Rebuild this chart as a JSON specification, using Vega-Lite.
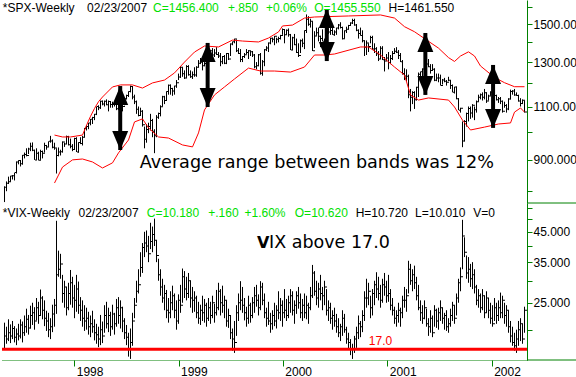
{
"$schema": "https://vega.github.io/schema/vega-lite/v6.json",
"padding": 0,
"spacing": 0,
"bounds": "flush",
"background": "#ffffff",
"config": {
  "view": {"stroke": null},
  "font": "Liberation Sans",
  "axis": {"grid": false, "domainColor": "#008000", "tickColor": "#008000", "labelColor": "#000000", "labelFont": "Liberation Sans", "labelFontSize": 12}
},
"datasets": {
"w": [
{"d":"1997-05-02","h":815,"l":768,"c":812,"vh":21.2,"vl":17.0,"vc":19.0},
{"d":"1997-05-09","h":830,"l":800,"c":824,"vh":20.5,"vl":17.8,"vc":18.5},
{"d":"1997-05-16","h":845,"l":822,"c":829,"vh":21.8,"vl":18.2,"vc":19.5},
{"d":"1997-05-23","h":848,"l":829,"c":847,"vh":20.9,"vl":17.9,"vc":19.0},
{"d":"1997-05-30","h":850,"l":836,"c":848,"vh":21.5,"vl":18.5,"vc":20.2},
{"d":"1997-06-06","h":858,"l":833,"c":858,"vh":20.6,"vl":18.0,"vc":18.8},
{"d":"1997-06-13","h":895,"l":855,"c":893,"vh":20.2,"vl":17.6,"vc":19.3},
{"d":"1997-06-20","h":899,"l":885,"c":898,"vh":21.0,"vl":18.3,"vc":19.0},
{"d":"1997-06-27","h":899,"l":878,"c":887,"vh":21.8,"vl":18.6,"vc":20.8},
{"d":"1997-07-04","h":917,"l":884,"c":916,"vh":21.4,"vl":18.0,"vc":19.5},
{"d":"1997-07-11","h":925,"l":905,"c":918,"vh":22.5,"vl":19.0,"vc":20.5},
{"d":"1997-07-18","h":940,"l":912,"c":915,"vh":23.8,"vl":19.5,"vc":21.8},
{"d":"1997-07-25","h":942,"l":920,"c":938,"vh":22.6,"vl":19.2,"vc":20.3},
{"d":"1997-08-01","h":960,"l":930,"c":947,"vh":24.4,"vl":20.2,"vc":22.5},
{"d":"1997-08-08","h":961,"l":930,"c":933,"vh":25.0,"vl":20.8,"vc":23.0},
{"d":"1997-08-15","h":935,"l":900,"c":900,"vh":24.1,"vl":20.0,"vc":21.5},
{"d":"1997-08-22","h":940,"l":900,"c":923,"vh":26.0,"vl":21.6,"vc":24.0},
{"d":"1997-08-29","h":928,"l":898,"c":899,"vh":25.2,"vl":21.0,"vc":22.5},
{"d":"1997-09-05","h":935,"l":900,"c":929,"vh":27.9,"vl":22.5,"vc":26.0},
{"d":"1997-09-12","h":932,"l":905,"c":923,"vh":26.4,"vl":21.8,"vc":23.5},
{"d":"1997-09-19","h":960,"l":925,"c":950,"vh":25.5,"vl":20.6,"vc":22.0},
{"d":"1997-09-26","h":952,"l":935,"c":945,"vh":23.4,"vl":19.8,"vc":21.5},
{"d":"1997-10-03","h":965,"l":945,"c":965,"vh":23.0,"vl":18.8,"vc":20.0},
{"d":"1997-10-10","h":985,"l":960,"c":966,"vh":22.0,"vl":18.5,"vc":20.5},
{"d":"1997-10-17","h":972,"l":940,"c":944,"vh":24.6,"vl":19.6,"vc":22.8},
{"d":"1997-10-24","h":960,"l":935,"c":941,"vh":25.8,"vl":20.5,"vc":24.5},
{"d":"1997-10-31","h":940,"l":855,"c":915,"vh":49.3,"vl":22.8,"vc":31.5},
{"d":"1997-11-07","h":943,"l":912,"c":927,"vh":38.5,"vl":31.0,"vc":33.0},
{"d":"1997-11-14","h":935,"l":915,"c":928,"vh":37.5,"vl":30.5,"vc":34.5},
{"d":"1997-11-21","h":965,"l":925,"c":963,"vh":31.5,"vl":25.0,"vc":27.0},
{"d":"1997-11-28","h":960,"l":945,"c":955,"vh":30.0,"vl":24.0,"vc":28.5},
{"d":"1997-12-05","h":986,"l":955,"c":983,"vh":28.5,"vl":22.5,"vc":24.0},
{"d":"1997-12-12","h":985,"l":950,"c":953,"vh":29.5,"vl":23.5,"vc":27.0},
{"d":"1997-12-19","h":975,"l":940,"c":947,"vh":32.8,"vl":24.6,"vc":29.5},
{"d":"1997-12-26","h":955,"l":930,"c":936,"vh":31.0,"vl":24.0,"vc":26.0},
{"d":"1998-01-02","h":978,"l":935,"c":975,"vh":29.0,"vl":22.0,"vc":25.5},
{"d":"1998-01-09","h":980,"l":927,"c":927,"vh":31.5,"vl":23.2,"vc":28.0},
{"d":"1998-01-16","h":962,"l":925,"c":961,"vh":29.8,"vl":22.8,"vc":24.5},
{"d":"1998-01-23","h":980,"l":955,"c":957,"vh":26.2,"vl":21.5,"vc":23.5},
{"d":"1998-01-30","h":985,"l":950,"c":980,"vh":25.5,"vl":20.5,"vc":22.0},
{"d":"1998-02-06","h":1015,"l":980,"c":1013,"vh":24.5,"vl":19.8,"vc":21.5},
{"d":"1998-02-13","h":1025,"l":1005,"c":1020,"vh":24.0,"vl":20.0,"vc":22.0},
{"d":"1998-02-20","h":1035,"l":1010,"c":1034,"vh":23.2,"vl":19.2,"vc":20.5},
{"d":"1998-02-27","h":1050,"l":1025,"c":1049,"vh":22.5,"vl":18.8,"vc":21.0},
{"d":"1998-03-06","h":1058,"l":1030,"c":1055,"vh":23.4,"vl":19.5,"vc":20.5},
{"d":"1998-03-13","h":1070,"l":1045,"c":1068,"vh":21.8,"vl":18.3,"vc":19.5},
{"d":"1998-03-20","h":1100,"l":1065,"c":1100,"vh":21.0,"vl":17.8,"vc":19.2},
{"d":"1998-03-27","h":1105,"l":1085,"c":1095,"vh":20.5,"vl":17.3,"vc":18.5},
{"d":"1998-04-03","h":1125,"l":1090,"c":1122,"vh":22.6,"vl":17.6,"vc":20.0},
{"d":"1998-04-10","h":1125,"l":1105,"c":1110,"vh":21.4,"vl":17.9,"vc":19.0},
{"d":"1998-04-17","h":1125,"l":1100,"c":1122,"vh":24.5,"vl":19.5,"vc":22.5},
{"d":"1998-04-24","h":1130,"l":1105,"c":1107,"vh":25.2,"vl":20.2,"vc":21.0},
{"d":"1998-05-01","h":1125,"l":1080,"c":1121,"vh":24.0,"vl":19.6,"vc":22.5},
{"d":"1998-05-08","h":1120,"l":1095,"c":1108,"vh":23.2,"vl":19.0,"vc":20.5},
{"d":"1998-05-15","h":1120,"l":1095,"c":1108,"vh":24.6,"vl":20.0,"vc":22.8},
{"d":"1998-05-22","h":1120,"l":1100,"c":1110,"vh":23.0,"vl":19.2,"vc":21.0},
{"d":"1998-05-29","h":1115,"l":1085,"c":1091,"vh":25.8,"vl":20.5,"vc":24.0},
{"d":"1998-06-05","h":1120,"l":1085,"c":1113,"vh":26.2,"vl":21.0,"vc":22.5},
{"d":"1998-06-12","h":1120,"l":1075,"c":1098,"vh":25.5,"vl":20.2,"vc":24.0},
{"d":"1998-06-19","h":1110,"l":1080,"c":1100,"vh":24.2,"vl":19.6,"vc":21.5},
{"d":"1998-06-26","h":1135,"l":1105,"c":1133,"vh":22.0,"vl":18.5,"vc":19.5},
{"d":"1998-07-03","h":1150,"l":1130,"c":1146,"vh":20.8,"vl":17.6,"vc":18.8},
{"d":"1998-07-10","h":1165,"l":1140,"c":1164,"vh":19.5,"vl":16.0,"vc":17.0},
{"d":"1998-07-17","h":1190,"l":1160,"c":1186,"vh":20.2,"vl":15.7,"vc":18.0},
{"d":"1998-07-24","h":1185,"l":1130,"c":1140,"vh":23.0,"vl":17.5,"vc":21.5},
{"d":"1998-07-31","h":1150,"l":1110,"c":1120,"vh":26.0,"vl":22.0,"vc":24.5},
{"d":"1998-08-07","h":1125,"l":1070,"c":1089,"vh":30.0,"vl":25.0,"vc":27.5},
{"d":"1998-08-14","h":1100,"l":1060,"c":1063,"vh":33.0,"vl":27.0,"vc":29.0},
{"d":"1998-08-21","h":1095,"l":1065,"c":1081,"vh":38.0,"vl":31.0,"vc":33.5},
{"d":"1998-08-28","h":1085,"l":1020,"c":1027,"vh":41.0,"vl":32.0,"vc":39.5},
{"d":"1998-09-04","h":1020,"l":940,"c":973,"vh":45.0,"vl":36.5,"vc":41.0},
{"d":"1998-09-11","h":1030,"l":960,"c":1009,"vh":45.5,"vl":38.0,"vc":40.0},
{"d":"1998-09-18","h":1035,"l":995,"c":1020,"vh":43.5,"vl":35.0,"vc":37.5},
{"d":"1998-09-25","h":1070,"l":1005,"c":1044,"vh":48.5,"vl":39.0,"vc":41.5},
{"d":"1998-10-02","h":1050,"l":980,"c":1002,"vh":47.0,"vl":38.0,"vc":44.0},
{"d":"1998-10-09","h":1010,"l":923,"c":985,"vh":50.2,"vl":40.0,"vc":42.0},
{"d":"1998-10-16","h":1065,"l":980,"c":1056,"vh":42.0,"vl":35.0,"vc":37.0},
{"d":"1998-10-23","h":1075,"l":1050,"c":1071,"vh":36.0,"vl":30.0,"vc":31.5},
{"d":"1998-10-30","h":1105,"l":1060,"c":1099,"vh":33.0,"vl":26.5,"vc":28.5},
{"d":"1998-11-06","h":1145,"l":1100,"c":1141,"vh":30.5,"vl":25.0,"vc":26.0},
{"d":"1998-11-13","h":1145,"l":1110,"c":1125,"vh":29.0,"vl":23.5,"vc":27.0},
{"d":"1998-11-20","h":1165,"l":1125,"c":1164,"vh":27.8,"vl":22.0,"vc":23.5},
{"d":"1998-11-27","h":1195,"l":1150,"c":1192,"vh":26.0,"vl":21.2,"vc":23.0},
{"d":"1998-12-04","h":1195,"l":1150,"c":1177,"vh":27.5,"vl":22.0,"vc":25.0},
{"d":"1998-12-11","h":1180,"l":1145,"c":1166,"vh":28.8,"vl":23.5,"vc":26.5},
{"d":"1998-12-18","h":1190,"l":1150,"c":1188,"vh":27.0,"vl":22.0,"vc":23.5},
{"d":"1998-12-25","h":1215,"l":1180,"c":1203,"vh":25.5,"vl":20.0,"vc":21.5},
{"d":"1999-01-01","h":1245,"l":1215,"c":1229,"vh":26.8,"vl":21.0,"vc":25.5},
{"d":"1999-01-08","h":1280,"l":1225,"c":1275,"vh":29.0,"vl":23.0,"vc":24.5},
{"d":"1999-01-15","h":1275,"l":1230,"c":1244,"vh":33.2,"vl":25.0,"vc":31.0},
{"d":"1999-01-22","h":1260,"l":1220,"c":1225,"vh":32.5,"vl":26.0,"vc":28.0},
{"d":"1999-01-29","h":1285,"l":1225,"c":1279,"vh":31.0,"vl":25.5,"vc":27.0},
{"d":"1999-02-05","h":1285,"l":1235,"c":1239,"vh":32.0,"vl":26.0,"vc":30.0},
{"d":"1999-02-12","h":1260,"l":1225,"c":1230,"vh":30.0,"vl":24.0,"vc":26.0},
{"d":"1999-02-19","h":1255,"l":1220,"c":1239,"vh":28.5,"vl":23.0,"vc":25.5},
{"d":"1999-02-26","h":1275,"l":1230,"c":1238,"vh":27.5,"vl":23.2,"vc":26.0},
{"d":"1999-03-05","h":1280,"l":1230,"c":1275,"vh":26.5,"vl":22.0,"vc":23.0},
{"d":"1999-03-12","h":1310,"l":1275,"c":1294,"vh":25.2,"vl":21.0,"vc":22.0},
{"d":"1999-03-19","h":1320,"l":1290,"c":1299,"vh":24.6,"vl":20.8,"vc":23.5},
{"d":"1999-03-26","h":1310,"l":1260,"c":1282,"vh":26.5,"vl":21.5,"vc":23.0},
{"d":"1999-04-02","h":1300,"l":1280,"c":1293,"vh":25.8,"vl":21.2,"vc":24.5},
{"d":"1999-04-09","h":1350,"l":1290,"c":1343,"vh":25.0,"vl":20.5,"vc":22.0},
{"d":"1999-04-16","h":1350,"l":1310,"c":1319,"vh":26.0,"vl":21.5,"vc":24.0},
{"d":"1999-04-23","h":1360,"l":1320,"c":1356,"vh":25.2,"vl":21.0,"vc":22.5},
{"d":"1999-04-30","h":1370,"l":1320,"c":1335,"vh":26.5,"vl":22.0,"vc":25.0},
{"d":"1999-05-07","h":1365,"l":1325,"c":1345,"vh":24.8,"vl":21.2,"vc":23.0},
{"d":"1999-05-14","h":1375,"l":1335,"c":1337,"vh":27.8,"vl":22.5,"vc":24.0},
{"d":"1999-05-21","h":1350,"l":1320,"c":1330,"vh":29.5,"vl":23.5,"vc":27.5},
{"d":"1999-05-28","h":1345,"l":1280,"c":1302,"vh":28.0,"vl":22.5,"vc":25.0},
{"d":"1999-06-04","h":1330,"l":1290,"c":1327,"vh":28.8,"vl":23.0,"vc":24.5},
{"d":"1999-06-11","h":1335,"l":1290,"c":1294,"vh":26.5,"vl":22.0,"vc":25.5},
{"d":"1999-06-18","h":1345,"l":1290,"c":1342,"vh":25.5,"vl":20.5,"vc":21.5},
{"d":"1999-06-25","h":1345,"l":1310,"c":1315,"vh":23.8,"vl":20.3,"vc":22.5},
{"d":"1999-07-02","h":1395,"l":1330,"c":1391,"vh":22.5,"vl":18.5,"vc":19.5},
{"d":"1999-07-09","h":1405,"l":1385,"c":1403,"vh":20.2,"vl":16.8,"vc":18.5},
{"d":"1999-07-16","h":1420,"l":1395,"c":1418,"vh":21.5,"vl":16.5,"vc":18.0},
{"d":"1999-07-23","h":1415,"l":1350,"c":1356,"vh":24.5,"vl":19.0,"vc":23.0},
{"d":"1999-07-30","h":1370,"l":1340,"c":1343,"vh":27.0,"vl":21.5,"vc":25.0},
{"d":"1999-08-06","h":1365,"l":1300,"c":1313,"vh":29.9,"vl":23.5,"vc":25.5},
{"d":"1999-08-13","h":1330,"l":1300,"c":1327,"vh":28.5,"vl":23.0,"vc":24.5},
{"d":"1999-08-20","h":1345,"l":1320,"c":1336,"vh":26.0,"vl":21.6,"vc":23.0},
{"d":"1999-08-27","h":1365,"l":1340,"c":1348,"vh":24.2,"vl":20.5,"vc":22.0},
{"d":"1999-09-03","h":1360,"l":1315,"c":1357,"vh":26.5,"vl":21.0,"vc":24.5},
{"d":"1999-09-10","h":1355,"l":1330,"c":1351,"vh":25.0,"vl":21.2,"vc":22.5},
{"d":"1999-09-17","h":1355,"l":1325,"c":1335,"vh":26.2,"vl":22.0,"vc":25.0},
{"d":"1999-09-24","h":1340,"l":1270,"c":1277,"vh":28.5,"vl":23.0,"vc":26.5},
{"d":"1999-10-01","h":1300,"l":1265,"c":1282,"vh":29.0,"vl":24.2,"vc":25.5},
{"d":"1999-10-08","h":1340,"l":1280,"c":1336,"vh":26.8,"vl":22.5,"vc":24.0},
{"d":"1999-10-15","h":1345,"l":1240,"c":1247,"vh":29.9,"vl":23.5,"vc":28.5},
{"d":"1999-10-22","h":1310,"l":1235,"c":1301,"vh":29.5,"vl":24.5,"vc":25.5},
{"d":"1999-10-29","h":1365,"l":1280,"c":1362,"vh":27.0,"vl":22.0,"vc":23.0},
{"d":"1999-11-05","h":1380,"l":1355,"c":1370,"vh":24.0,"vl":20.5,"vc":22.0},
{"d":"1999-11-12","h":1400,"l":1350,"c":1397,"vh":25.2,"vl":20.8,"vc":21.5},
{"d":"1999-11-19","h":1425,"l":1390,"c":1422,"vh":23.0,"vl":19.5,"vc":21.0},
{"d":"1999-11-26","h":1425,"l":1400,"c":1417,"vh":23.5,"vl":20.0,"vc":22.5},
{"d":"1999-12-03","h":1435,"l":1385,"c":1433,"vh":25.0,"vl":20.6,"vc":21.5},
{"d":"1999-12-10","h":1425,"l":1395,"c":1417,"vh":24.5,"vl":20.2,"vc":23.5},
{"d":"1999-12-17","h":1430,"l":1400,"c":1421,"vh":27.5,"vl":21.8,"vc":23.0},
{"d":"1999-12-24","h":1440,"l":1415,"c":1437,"vh":26.0,"vl":21.5,"vc":24.5},
{"d":"1999-12-31","h":1475,"l":1440,"c":1469,"vh":25.5,"vl":20.5,"vc":23.0},
{"d":"2000-01-07","h":1470,"l":1395,"c":1441,"vh":28.0,"vl":22.0,"vc":23.5},
{"d":"2000-01-14","h":1470,"l":1440,"c":1465,"vh":25.8,"vl":21.5,"vc":22.5},
{"d":"2000-01-21","h":1475,"l":1430,"c":1441,"vh":26.5,"vl":22.0,"vc":25.0},
{"d":"2000-01-28","h":1445,"l":1360,"c":1360,"vh":28.0,"vl":23.0,"vc":26.5},
{"d":"2000-02-04","h":1430,"l":1360,"c":1424,"vh":27.5,"vl":22.5,"vc":23.5},
{"d":"2000-02-11","h":1445,"l":1385,"c":1387,"vh":25.5,"vl":21.0,"vc":24.5},
{"d":"2000-02-18","h":1420,"l":1345,"c":1347,"vh":27.5,"vl":22.8,"vc":26.5},
{"d":"2000-02-25","h":1395,"l":1325,"c":1333,"vh":28.5,"vl":23.8,"vc":25.0},
{"d":"2000-03-03","h":1415,"l":1345,"c":1409,"vh":27.0,"vl":22.0,"vc":23.0},
{"d":"2000-03-10","h":1420,"l":1375,"c":1395,"vh":25.8,"vl":21.5,"vc":24.5},
{"d":"2000-03-17","h":1465,"l":1365,"c":1464,"vh":27.0,"vl":22.0,"vc":23.0},
{"d":"2000-03-24","h":1555,"l":1450,"c":1527,"vh":26.5,"vl":21.8,"vc":24.5},
{"d":"2000-03-31","h":1545,"l":1490,"c":1499,"vh":25.0,"vl":21.0,"vc":24.0},
{"d":"2000-04-07","h":1530,"l":1480,"c":1516,"vh":28.5,"vl":23.5,"vc":26.5},
{"d":"2000-04-14","h":1515,"l":1355,"c":1356,"vh":34.2,"vl":26.0,"vc":32.0},
{"d":"2000-04-21","h":1460,"l":1370,"c":1434,"vh":32.5,"vl":26.5,"vc":27.5},
{"d":"2000-04-28","h":1480,"l":1435,"c":1452,"vh":30.0,"vl":24.5,"vc":26.0},
{"d":"2000-05-05","h":1480,"l":1405,"c":1432,"vh":29.5,"vl":24.0,"vc":28.0},
{"d":"2000-05-12","h":1435,"l":1375,"c":1420,"vh":31.5,"vl":25.5,"vc":27.0},
{"d":"2000-05-19","h":1470,"l":1405,"c":1406,"vh":28.5,"vl":23.5,"vc":26.5},
{"d":"2000-05-26","h":1420,"l":1365,"c":1378,"vh":30.0,"vl":24.5,"vc":28.5},
{"d":"2000-06-02","h":1480,"l":1375,"c":1477,"vh":28.0,"vl":22.5,"vc":23.5},
{"d":"2000-06-09","h":1475,"l":1445,"c":1456,"vh":25.5,"vl":21.5,"vc":24.0},
{"d":"2000-06-16","h":1480,"l":1440,"c":1464,"vh":25.0,"vl":21.0,"vc":22.0},
{"d":"2000-06-23","h":1485,"l":1440,"c":1441,"vh":23.5,"vl":20.0,"vc":22.5},
{"d":"2000-06-30","h":1465,"l":1435,"c":1455,"vh":24.0,"vl":20.5,"vc":21.5},
{"d":"2000-07-07","h":1480,"l":1440,"c":1478,"vh":22.8,"vl":19.5,"vc":20.5},
{"d":"2000-07-14","h":1500,"l":1470,"c":1495,"vh":22.0,"vl":18.8,"vc":19.5},
{"d":"2000-07-21","h":1510,"l":1475,"c":1480,"vh":21.0,"vl":18.2,"vc":20.5},
{"d":"2000-07-28","h":1485,"l":1415,"c":1419,"vh":23.5,"vl":19.0,"vc":22.0},
{"d":"2000-08-04","h":1465,"l":1420,"c":1462,"vh":22.8,"vl":19.5,"vc":20.0},
{"d":"2000-08-11","h":1485,"l":1450,"c":1471,"vh":20.5,"vl":17.8,"vc":18.5},
{"d":"2000-08-18","h":1495,"l":1470,"c":1491,"vh":19.5,"vl":17.0,"vc":18.0},
{"d":"2000-08-25","h":1510,"l":1490,"c":1506,"vh":18.5,"vl":16.2,"vc":17.0},
{"d":"2000-09-01","h":1530,"l":1500,"c":1520,"vh":17.8,"vl":15.7,"vc":17.0},
{"d":"2000-09-08","h":1530,"l":1490,"c":1494,"vh":19.0,"vl":16.5,"vc":18.5},
{"d":"2000-09-15","h":1500,"l":1460,"c":1465,"vh":20.5,"vl":17.2,"vc":19.5},
{"d":"2000-09-22","h":1470,"l":1420,"c":1448,"vh":22.5,"vl":18.5,"vc":21.0},
{"d":"2000-09-29","h":1480,"l":1435,"c":1436,"vh":21.5,"vl":18.8,"vc":20.5},
{"d":"2000-10-06","h":1465,"l":1400,"c":1408,"vh":23.5,"vl":19.6,"vc":22.5},
{"d":"2000-10-13","h":1410,"l":1330,"c":1374,"vh":27.5,"vl":21.5,"vc":26.0},
{"d":"2000-10-20","h":1410,"l":1335,"c":1396,"vh":30.5,"vl":24.0,"vc":26.0},
{"d":"2000-10-27","h":1395,"l":1350,"c":1379,"vh":29.5,"vl":24.5,"vc":27.5},
{"d":"2000-11-03","h":1435,"l":1395,"c":1426,"vh":26.5,"vl":22.0,"vc":24.0},
{"d":"2000-11-10","h":1435,"l":1360,"c":1365,"vh":28.0,"vl":22.5,"vc":27.0},
{"d":"2000-11-17","h":1395,"l":1345,"c":1367,"vh":30.0,"vl":24.5,"vc":29.0},
{"d":"2000-11-24","h":1375,"l":1330,"c":1341,"vh":32.2,"vl":26.0,"vc":28.0},
{"d":"2000-12-01","h":1355,"l":1305,"c":1315,"vh":31.0,"vl":25.5,"vc":27.0},
{"d":"2000-12-08","h":1380,"l":1315,"c":1369,"vh":29.0,"vl":24.0,"vc":25.5},
{"d":"2000-12-15","h":1380,"l":1310,"c":1312,"vh":30.5,"vl":25.0,"vc":29.0},
{"d":"2000-12-22","h":1325,"l":1255,"c":1305,"vh":32.0,"vl":26.5,"vc":28.5},
{"d":"2000-12-29","h":1340,"l":1305,"c":1320,"vh":30.0,"vl":25.0,"vc":26.5},
{"d":"2001-01-05","h":1350,"l":1265,"c":1298,"vh":31.5,"vl":25.2,"vc":27.0},
{"d":"2001-01-12","h":1335,"l":1290,"c":1318,"vh":28.0,"vl":23.5,"vc":24.5},
{"d":"2001-01-19","h":1355,"l":1310,"c":1342,"vh":26.0,"vl":22.5,"vc":23.5},
{"d":"2001-01-26","h":1370,"l":1340,"c":1354,"vh":24.2,"vl":21.0,"vc":22.0},
{"d":"2001-02-02","h":1375,"l":1345,"c":1349,"vh":23.5,"vl":20.5,"vc":22.5},
{"d":"2001-02-09","h":1360,"l":1315,"c":1332,"vh":25.0,"vl":21.2,"vc":23.5},
{"d":"2001-02-16","h":1345,"l":1300,"c":1302,"vh":24.0,"vl":20.5,"vc":23.0},
{"d":"2001-02-23","h":1310,"l":1240,"c":1245,"vh":26.5,"vl":22.0,"vc":25.5},
{"d":"2001-03-02","h":1270,"l":1215,"c":1234,"vh":28.5,"vl":24.0,"vc":25.5},
{"d":"2001-03-09","h":1265,"l":1210,"c":1233,"vh":28.0,"vl":23.2,"vc":26.5},
{"d":"2001-03-16","h":1240,"l":1135,"c":1150,"vh":35.4,"vl":27.0,"vc":33.0},
{"d":"2001-03-23","h":1175,"l":1080,"c":1139,"vh":34.5,"vl":29.0,"vc":30.0},
{"d":"2001-03-30","h":1165,"l":1110,"c":1160,"vh":33.0,"vl":27.5,"vc":31.5},
{"d":"2001-04-06","h":1165,"l":1090,"c":1128,"vh":34.0,"vl":28.0,"vc":29.5},
{"d":"2001-04-13","h":1185,"l":1125,"c":1183,"vh":31.0,"vl":25.5,"vc":26.5},
{"d":"2001-04-20","h":1250,"l":1140,"c":1242,"vh":29.0,"vl":23.5,"vc":24.0},
{"d":"2001-04-27","h":1255,"l":1215,"c":1253,"vh":25.5,"vl":21.5,"vc":23.0},
{"d":"2001-05-04","h":1270,"l":1230,"c":1266,"vh":24.5,"vl":21.0,"vc":22.0},
{"d":"2001-05-11","h":1270,"l":1230,"c":1245,"vh":25.5,"vl":21.8,"vc":24.0},
{"d":"2001-05-18","h":1295,"l":1245,"c":1291,"vh":23.8,"vl":20.5,"vc":21.0},
{"d":"2001-05-25","h":1315,"l":1275,"c":1277,"vh":22.0,"vl":19.0,"vc":20.5},
{"d":"2001-06-01","h":1290,"l":1245,"c":1260,"vh":23.5,"vl":19.5,"vc":22.0},
{"d":"2001-06-08","h":1290,"l":1260,"c":1265,"vh":22.5,"vl":18.8,"vc":19.5},
{"d":"2001-06-15","h":1270,"l":1210,"c":1214,"vh":24.5,"vl":20.5,"vc":23.5},
{"d":"2001-06-22","h":1245,"l":1210,"c":1225,"vh":23.8,"vl":20.3,"vc":21.5},
{"d":"2001-06-29","h":1245,"l":1205,"c":1224,"vh":24.0,"vl":20.0,"vc":23.0},
{"d":"2001-07-06","h":1240,"l":1190,"c":1190,"vh":25.5,"vl":21.5,"vc":24.0},
{"d":"2001-07-13","h":1220,"l":1195,"c":1215,"vh":24.0,"vl":21.0,"vc":22.0},
{"d":"2001-07-20","h":1225,"l":1205,"c":1210,"vh":23.0,"vl":20.0,"vc":22.5},
{"d":"2001-07-27","h":1215,"l":1190,"c":1205,"vh":23.5,"vl":19.8,"vc":20.5},
{"d":"2001-08-03","h":1230,"l":1210,"c":1214,"vh":22.0,"vl":19.5,"vc":21.0},
{"d":"2001-08-10","h":1215,"l":1175,"c":1190,"vh":23.8,"vl":20.5,"vc":22.5},
{"d":"2001-08-17","h":1195,"l":1160,"c":1161,"vh":25.2,"vl":21.5,"vc":24.5},
{"d":"2001-08-24","h":1185,"l":1155,"c":1184,"vh":24.5,"vl":21.0,"vc":22.0},
{"d":"2001-08-31","h":1185,"l":1130,"c":1133,"vh":27.0,"vl":22.5,"vc":26.0},
{"d":"2001-09-07","h":1135,"l":1085,"c":1085,"vh":30.5,"vl":25.0,"vc":29.5},
{"d":"2001-09-14","h":1095,"l":1075,"c":1093,"vh":33.5,"vl":27.5,"vc":31.0},
{"d":"2001-09-21","h":1040,"l":944,"c":966,"vh":49.7,"vl":33.0,"vc":43.5},
{"d":"2001-09-28","h":1045,"l":965,"c":1040,"vh":43.0,"vl":36.5,"vc":38.0},
{"d":"2001-10-05","h":1075,"l":1020,"c":1071,"vh":37.0,"vl":30.5,"vc":32.0},
{"d":"2001-10-12","h":1100,"l":1040,"c":1092,"vh":36.5,"vl":29.5,"vc":33.0},
{"d":"2001-10-19","h":1100,"l":1050,"c":1073,"vh":34.5,"vl":28.5,"vc":30.5},
{"d":"2001-10-26","h":1110,"l":1055,"c":1105,"vh":35.0,"vl":28.0,"vc":31.5},
{"d":"2001-11-02","h":1100,"l":1045,"c":1087,"vh":33.0,"vl":27.0,"vc":28.5},
{"d":"2001-11-09","h":1125,"l":1075,"c":1120,"vh":29.0,"vl":24.5,"vc":25.5},
{"d":"2001-11-16","h":1150,"l":1120,"c":1139,"vh":28.0,"vl":24.0,"vc":26.5},
{"d":"2001-11-23","h":1155,"l":1130,"c":1150,"vh":27.0,"vl":23.0,"vc":24.0},
{"d":"2001-11-30","h":1160,"l":1125,"c":1139,"vh":28.0,"vl":23.5,"vc":26.5},
{"d":"2001-12-07","h":1175,"l":1130,"c":1158,"vh":26.5,"vl":22.0,"vc":23.0},
{"d":"2001-12-14","h":1160,"l":1115,"c":1123,"vh":27.5,"vl":23.0,"vc":26.0},
{"d":"2001-12-21","h":1150,"l":1125,"c":1144,"vh":26.0,"vl":22.0,"vc":23.5},
{"d":"2001-12-28","h":1165,"l":1145,"c":1161,"vh":25.0,"vl":21.0,"vc":22.0},
{"d":"2002-01-04","h":1176,"l":1140,"c":1172,"vh":24.5,"vl":20.5,"vc":21.0},
{"d":"2002-01-11","h":1175,"l":1140,"c":1146,"vh":26.0,"vl":21.5,"vc":24.0},
{"d":"2002-01-18","h":1150,"l":1125,"c":1128,"vh":25.0,"vl":21.0,"vc":22.5},
{"d":"2002-01-25","h":1140,"l":1115,"c":1133,"vh":25.5,"vl":21.5,"vc":24.0},
{"d":"2002-02-01","h":1140,"l":1110,"c":1122,"vh":27.2,"vl":22.0,"vc":23.0},
{"d":"2002-02-08","h":1125,"l":1075,"c":1081,"vh":26.5,"vl":22.0,"vc":25.5},
{"d":"2002-02-15","h":1120,"l":1095,"c":1104,"vh":25.0,"vl":21.0,"vc":22.5},
{"d":"2002-02-22","h":1110,"l":1075,"c":1090,"vh":24.5,"vl":20.5,"vc":23.5},
{"d":"2002-03-01","h":1135,"l":1085,"c":1132,"vh":23.5,"vl":19.5,"vc":20.5},
{"d":"2002-03-08","h":1172,"l":1130,"c":1164,"vh":21.5,"vl":18.0,"vc":19.0},
{"d":"2002-03-15","h":1170,"l":1150,"c":1166,"vh":20.5,"vl":17.5,"vc":18.0},
{"d":"2002-03-22","h":1175,"l":1145,"c":1149,"vh":19.5,"vl":16.8,"vc":17.5},
{"d":"2002-03-29","h":1160,"l":1145,"c":1147,"vh":20.0,"vl":16.5,"vc":18.5},
{"d":"2002-04-05","h":1150,"l":1120,"c":1123,"vh":21.5,"vl":17.5,"vc":20.0},
{"d":"2002-04-12","h":1135,"l":1100,"c":1112,"vh":22.0,"vl":18.2,"vc":21.0},
{"d":"2002-04-19","h":1130,"l":1110,"c":1126,"vh":21.0,"vl":17.8,"vc":18.5},
{"d":"2002-04-26","h":1125,"l":1075,"c":1077,"vh":24.2,"vl":19.5,"vc":23.5}
],
"up": [
{"d":"1997-10-24","v":988},{"d":"1997-11-21","v":981},{"d":"1997-12-19","v":981},{"d":"1998-01-30","v":988},
{"d":"1998-02-13","v":1025},{"d":"1998-02-27","v":1060},{"d":"1998-03-13","v":1092},{"d":"1998-03-27","v":1120},
{"d":"1998-04-10","v":1140},{"d":"1998-05-15","v":1184},{"d":"1998-06-12","v":1193},{"d":"1998-07-24","v":1193},
{"d":"1998-08-28","v":1179},{"d":"1998-10-02","v":1202},{"d":"1998-11-13","v":1215},{"d":"1998-12-18","v":1248},
{"d":"1999-01-22","v":1300},{"d":"1999-02-26","v":1350},{"d":"1999-04-02","v":1381},{"d":"1999-05-21","v":1376},
{"d":"1999-07-09","v":1412},{"d":"1999-08-13","v":1407},{"d":"1999-10-08","v":1402},{"d":"1999-11-12","v":1423},
{"d":"1999-12-17","v":1456},{"d":"1999-12-31","v":1489},{"d":"2000-02-04","v":1494},{"d":"2000-03-17","v":1534},
{"d":"2000-04-21","v":1540},{"d":"2000-08-18","v":1546},{"d":"2000-12-08","v":1552},{"d":"2001-01-26","v":1534},
{"d":"2001-03-02","v":1485},{"d":"2001-04-06","v":1457},{"d":"2001-05-11","v":1420},{"d":"2001-06-29","v":1370},
{"d":"2001-08-03","v":1322},{"d":"2001-08-24","v":1303},{"d":"2001-09-14","v":1330},{"d":"2001-10-12","v":1351},
{"d":"2001-11-02","v":1330},{"d":"2001-11-23","v":1281},{"d":"2002-01-11","v":1227},{"d":"2002-02-15","v":1203},
{"d":"2002-03-22","v":1185},{"d":"2002-04-26","v":1185}
],
"lo": [
{"d":"1997-10-24","v":825},{"d":"1997-11-07","v":850},{"d":"1997-11-21","v":876},{"d":"1997-12-26","v":900},
{"d":"1998-01-30","v":903},{"d":"1998-03-06","v":893},{"d":"1998-04-10","v":873},{"d":"1998-05-15","v":890},
{"d":"1998-06-05","v":924},{"d":"1998-07-10","v":970},{"d":"1998-07-31","v":1038},{"d":"1998-08-28","v":1050},
{"d":"1998-09-18","v":1015},{"d":"1998-10-23","v":981},{"d":"1998-11-27","v":977},{"d":"1999-01-15","v":952},
{"d":"1999-02-19","v":945},{"d":"1999-03-12","v":996},{"d":"1999-04-02","v":1086},{"d":"1999-05-07","v":1149},
{"d":"1999-06-11","v":1184},{"d":"1999-07-16","v":1220},{"d":"1999-09-03","v":1271},{"d":"1999-10-15","v":1257},
{"d":"1999-12-03","v":1257},{"d":"2000-01-28","v":1252},{"d":"2000-03-17","v":1276},{"d":"2000-04-21","v":1335},
{"d":"2000-05-26","v":1335},{"d":"2000-06-30","v":1340},{"d":"2000-09-29","v":1376},{"d":"2000-10-27","v":1376},
{"d":"2000-12-08","v":1335},{"d":"2001-01-26","v":1276},{"d":"2001-03-02","v":1238},{"d":"2001-03-23","v":1149},
{"d":"2001-04-20","v":1127},{"d":"2001-05-25","v":1136},{"d":"2001-08-03","v":1127},{"d":"2001-08-24","v":1098},
{"d":"2001-09-21","v":1045},{"d":"2001-10-19","v":1007},{"d":"2001-12-07","v":1018},{"d":"2002-01-25","v":1030},
{"d":"2002-03-08","v":1034},{"d":"2002-03-22","v":1077},{"d":"2002-04-12","v":1094},{"d":"2002-04-26","v":1077}
],
"arrows": [
{"d":"1998-06-11","t":1188,"b":934},
{"d":"1999-04-13","t":1397,"b":1098},
{"d":"2000-06-03","t":1587,"b":1305},
{"d":"2001-05-14","t":1450,"b":1149},
{"d":"2002-01-06","t":1286,"b":1015}
],
"hdr": [
{"p":"s","d":"1997-04-26","v":1593,"t":"*SPX-Weekly","k":"b"},
{"p":"s","d":"1998-02-15","v":1593,"t":"02/23/2007","k":"b"},
{"p":"s","d":"1998-10-04","v":1593,"t":"C=1456.400","k":"g"},
{"p":"s","d":"1999-06-23","v":1593,"t":"+.850","k":"g"},
{"p":"s","d":"1999-11-03","v":1593,"t":"+0.06%","k":"g"},
{"p":"s","d":"2000-04-20","v":1593,"t":"O=1455.550","k":"g"},
{"p":"s","d":"2001-01-05","v":1593,"t":"H=1461.550","k":"b"},
{"p":"v","d":"1997-04-26","v":52.7,"t":"*VIX-Weekly","k":"b"},
{"p":"v","d":"1998-01-16","v":52.7,"t":"02/23/2007","k":"b"},
{"p":"v","d":"1998-09-12","v":52.7,"t":"C=10.180","k":"g"},
{"p":"v","d":"1999-04-15","v":52.7,"t":"+.160","k":"g"},
{"p":"v","d":"1999-08-20","v":52.7,"t":"+1.60%","k":"g"},
{"p":"v","d":"2000-02-12","v":52.7,"t":"O=10.620","k":"g"},
{"p":"v","d":"2000-09-12","v":52.7,"t":"H=10.720","k":"b"},
{"p":"v","d":"2001-04-08","v":52.7,"t":"L=10.010","k":"b"},
{"p":"v","d":"2001-10-29","v":52.7,"t":"V=0","k":"b"}
]
},
"vconcat": [
{
 "width": 525, "height": 203,
 "layer": [
  {"data": {"name": "w"}, "mark": {"type": "rule", "color": "#000000", "strokeWidth": 1, "clip": true},
   "encoding": {
     "x": {"field": "d", "type": "temporal", "scale": {"type": "utc", "domain": [{"year":1997,"month":4,"date":23,"hours":6,"utc":true},{"year":2002,"month":5,"date":4,"hours":18,"utc":true}], "nice": false}, "axis": null},
     "y": {"field": "h", "type": "quantitative", "scale": {"type": "log", "domain": [765.3, 1641.7], "nice": false},
           "axis": {"orient": "right", "title": null, "grid": false, "domain": true, "ticks": true, "labels": true, "domainColor": "#008000", "tickColor": "#008000", "values": [800,900,1000,1100,1200,1300,1400,1500,1600], "labelExpr": "indexof([900,1100,1300,1500], datum.value) >= 0 ? format(datum.value, '.3f') : ''", "tickSize": 5, "labelPadding": 1, "labelOverlap": false}},
     "y2": {"field": "l"}}},
  {"data": {"name": "w"}, "mark": {"type": "tick", "orient": "horizontal", "size": 2, "thickness": 1, "xOffset": 1.5, "color": "#000000", "opacity": 1, "clip": true},
   "encoding": {"x": {"field": "d", "type": "temporal", "axis": null}, "y": {"field": "c", "type": "quantitative", "title": null}}},
  {"data": {"name": "up"}, "mark": {"type": "line", "color": "#ff0000", "strokeWidth": 1, "clip": true},
   "encoding": {"x": {"field": "d", "type": "temporal", "axis": null}, "y": {"field": "v", "type": "quantitative", "title": null}}},
  {"data": {"name": "lo"}, "mark": {"type": "line", "color": "#ff0000", "strokeWidth": 1, "clip": true},
   "encoding": {"x": {"field": "d", "type": "temporal", "axis": null}, "y": {"field": "v", "type": "quantitative", "title": null}}},
  {"data": {"name": "arrows"}, "mark": {"type": "rule", "color": "#000000", "strokeWidth": 4},
   "encoding": {"x": {"field": "d", "type": "temporal", "axis": null}, "y": {"field": "t", "type": "quantitative", "title": null}, "y2": {"field": "b"}}},
  {"data": {"name": "arrows"}, "mark": {"type": "point", "shape": "M0,-1L0.84,1L-0.84,1Z", "size": 361, "filled": true, "color": "#000000", "opacity": 1, "strokeWidth": 0, "yOffset": 9.5},
   "encoding": {"x": {"field": "d", "type": "temporal", "axis": null}, "y": {"field": "t", "type": "quantitative", "title": null}}},
  {"data": {"name": "arrows"}, "mark": {"type": "point", "shape": "M0,1L0.84,-1L-0.84,-1Z", "size": 361, "filled": true, "color": "#000000", "opacity": 1, "strokeWidth": 0, "yOffset": -9.5},
   "encoding": {"x": {"field": "d", "type": "temporal", "axis": null}, "y": {"field": "b", "type": "quantitative", "title": null}}},
  {"data": {"name": "hdr"}, "transform": [{"filter": "datum.p == 's'"}],
   "mark": {"type": "text", "align": "left", "baseline": "middle", "fontSize": 12, "font": "Liberation Sans"},
   "encoding": {"x": {"field": "d", "type": "temporal", "axis": null}, "y": {"field": "v", "type": "quantitative", "title": null}, "text": {"field": "t"},
     "color": {"field": "k", "type": "nominal", "scale": {"domain": ["b","g"], "range": ["#000000","#00e000"]}, "legend": null}}},
  {"data": {"values": [{"d":"1998-08-18","v":874,"t":"Average range between bands was 12%"}]},
   "mark": {"type": "text", "align": "left", "baseline": "alphabetic", "fontSize": 17.6, "font": "DejaVu Sans", "color": "#000000"},
   "encoding": {"x": {"field": "d", "type": "temporal", "axis": null}, "y": {"field": "v", "type": "quantitative", "title": null}, "text": {"field": "t"}}},
  {"data": {"values": [{"a":"2002-05-04T18:00:00Z","b":"2002-11-01","v":765.3}]},
   "mark": {"type": "rule", "color": "#008000", "strokeWidth": 1},
   "encoding": {"x": {"field": "a", "type": "temporal", "axis": null}, "x2": {"field": "b"}, "y": {"field": "v", "type": "quantitative", "title": null}}}
 ]
},
{
 "width": 525, "height": 157,
 "layer": [
  {"data": {"name": "w"}, "mark": {"type": "rule", "color": "#000000", "strokeWidth": 1, "clip": true},
   "encoding": {
     "x": {"field": "d", "type": "temporal", "scale": {"type": "utc", "domain": [{"year":1997,"month":4,"date":23,"hours":6,"utc":true},{"year":2002,"month":5,"date":4,"hours":18,"utc":true}], "nice": false},
           "axis": {"orient": "bottom", "title": null, "grid": false, "domain": true, "ticks": true, "labels": true, "domainColor": "#008000", "tickColor": "#008000", "values": [{"year":1998,"month":1,"date":1,"utc":true},{"year":1999,"month":1,"date":1,"utc":true},{"year":2000,"month":1,"date":1,"utc":true},{"year":2001,"month":1,"date":1,"utc":true},{"year":2002,"month":1,"date":1,"utc":true}],
                    "format": "%Y", "tickSize": 6, "labelPadding": 0, "labelAlign": "left", "labelBaseline": "top", "labelOffset": 2, "labelFlush": false, "labelOverlap": false, "domainDash": [1,1]}},
     "y": {"field": "vh", "type": "quantitative", "scale": {"type": "log", "domain": [15.56, 57.13], "nice": false},
           "axis": {"orient": "right", "title": null, "grid": false, "domain": true, "ticks": true, "labels": true, "domainColor": "#008000", "tickColor": "#008000", "values": [20,25,30,35,40,45,50,55], "labelExpr": "indexof([25,35,45], datum.value) >= 0 ? format(datum.value, '.3f') : ''", "tickSize": 5, "labelPadding": 1, "labelOverlap": false}},
     "y2": {"field": "vl"}}},
  {"data": {"name": "w"}, "mark": {"type": "tick", "orient": "horizontal", "size": 2, "thickness": 1, "xOffset": 1.5, "color": "#000000", "opacity": 1, "clip": true},
   "encoding": {"x": {"field": "d", "type": "temporal", "title": null}, "y": {"field": "vc", "type": "quantitative", "title": null}}},
  {"data": {"values": [{"a":"1997-04-23T06:00:00Z","b":"2002-05-04T18:00:00Z","v":17}]},
   "mark": {"type": "rule", "color": "#ff0000", "strokeWidth": 3},
   "encoding": {"x": {"field": "a", "type": "temporal", "title": null}, "x2": {"field": "b"}, "y": {"field": "v", "type": "quantitative", "title": null}}},
  {"data": {"name": "hdr"}, "transform": [{"filter": "datum.p == 'v'"}],
   "mark": {"type": "text", "align": "left", "baseline": "middle", "fontSize": 12, "font": "Liberation Sans"},
   "encoding": {"x": {"field": "d", "type": "temporal", "title": null}, "y": {"field": "v", "type": "quantitative", "title": null}, "text": {"field": "t"},
     "color": {"field": "k", "type": "nominal", "scale": {"domain": ["b","g"], "range": ["#000000","#00e000"]}, "legend": null}}},
  {"data": {"values": [{"d":"1999-10-02T18:00:00Z","v":39.2,"t":"V"}]},
   "mark": {"type": "text", "align": "left", "baseline": "alphabetic", "fontSize": 16, "font": "DejaVu Sans", "fontWeight": "bold", "color": "#000000"},
   "encoding": {"x": {"field": "d", "type": "temporal", "title": null}, "y": {"field": "v", "type": "quantitative", "title": null}, "text": {"field": "t"}}},
  {"data": {"values": [{"d":"1999-11-13T18:00:00Z","v":39.2,"t":"IX above 17.0"}]},
   "mark": {"type": "text", "align": "left", "baseline": "alphabetic", "fontSize": 17.5, "font": "DejaVu Sans", "color": "#000000"},
   "encoding": {"x": {"field": "d", "type": "temporal", "title": null}, "y": {"field": "v", "type": "quantitative", "title": null}, "text": {"field": "t"}}},
  {"data": {"values": [{"d":"2000-10-28","v":17,"t":"17.0"}]},
   "mark": {"type": "text", "align": "left", "baseline": "alphabetic", "fontSize": 12, "font": "Liberation Sans", "color": "#ff0000", "dy": -4},
   "encoding": {"x": {"field": "d", "type": "temporal", "title": null}, "y": {"field": "v", "type": "quantitative", "title": null}, "text": {"field": "t"}}},
  {"data": {"values": [{"a":"2002-05-04T18:00:00Z","b":"2002-11-01","v":15.56}]},
   "mark": {"type": "rule", "color": "#008000", "strokeWidth": 1},
   "encoding": {"x": {"field": "a", "type": "temporal", "title": null}, "x2": {"field": "b"}, "y": {"field": "v", "type": "quantitative", "title": null}}}
 ]
}
]
}
